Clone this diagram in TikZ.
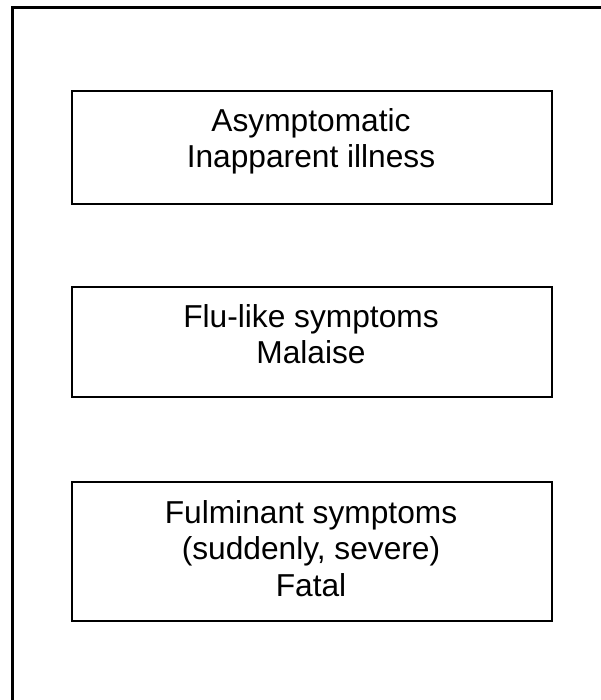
\documentclass[tikz,border=0pt]{standalone}
\usepackage{fontspec}
\setmainfont{Liberation Sans}
\begin{document}
\begin{tikzpicture}[x=1bp,y=-1bp,
  box/.style={draw=black, line width=1.5bp, inner sep=0pt, minimum width=480bp},
  lbl/.style={align=center, inner sep=0pt, anchor=north, font=\fontsize{31.7bp}{36.8bp}\selectfont},
  frame/.style={line width=3bp}]
\useasboundingbox (0,0) rectangle (601,700);
\coordinate (fb) at (12,702);
\coordinate (fc) at (12,8);
\coordinate (fr) at (603,8);
\draw[frame] (fb) -- (fc) -- (fr);
\node[box, minimum height=113bp] (b1) at (312,147.5) {};
\node[box, minimum height=110bp] (b2) at (312,342) {};
\node[box, minimum height=139bp] (b3) at (312,551.5) {};
\node[lbl] (t1) at (311,108) {Asymptomatic\\Inapparent illness};
\node[lbl] (t2) at (311,304) {Flu-like symptoms\\Malaise};
\node[lbl] (t3) at (311,500) {Fulminant symptoms\\(suddenly, severe)\\Fatal};
\end{tikzpicture}
\end{document}
